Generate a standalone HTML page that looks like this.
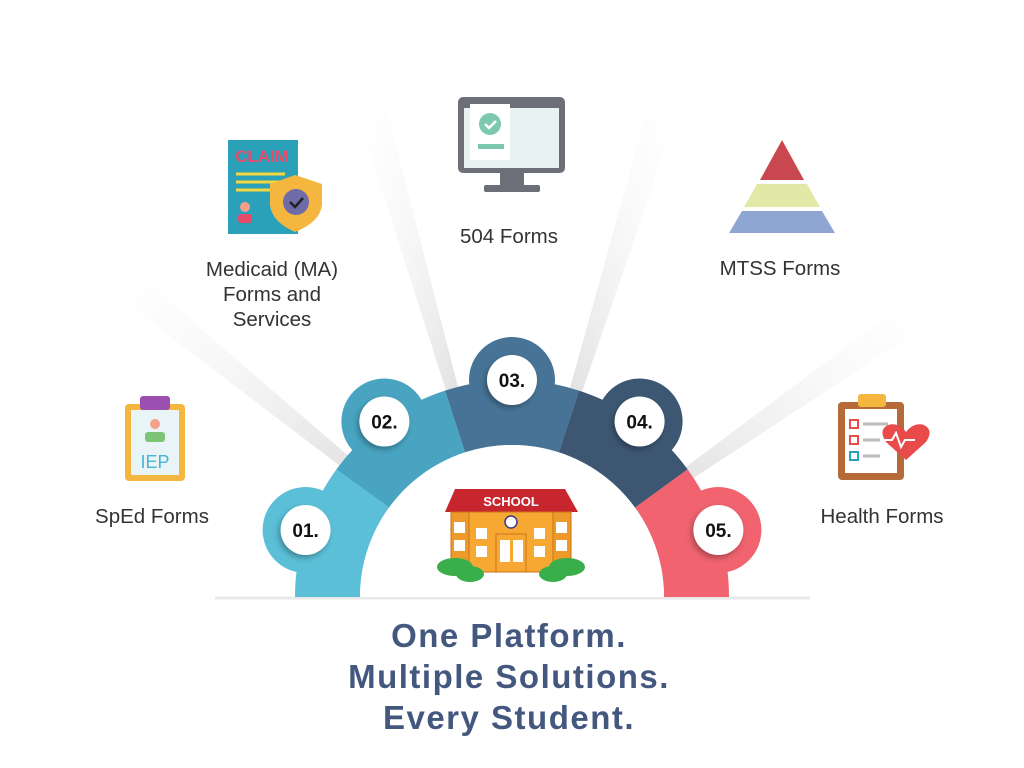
<!DOCTYPE html>
<html><head><meta charset="utf-8"><style>
html,body{margin:0;padding:0;background:#fff;}
body{width:1024px;height:768px;overflow:hidden;position:relative;font-family:"Liberation Sans",sans-serif;}
svg{position:absolute;left:0;top:0;}
</style></head><body>
<svg width="1024" height="768" viewBox="0 0 1024 768" xmlns="http://www.w3.org/2000/svg">
<defs>
<linearGradient id="rl" x1="1" y1="1" x2="0" y2="0"><stop offset="0.3" stop-color="#dcdcdc"/><stop offset="1" stop-color="#fff" stop-opacity="0"/></linearGradient>
<linearGradient id="rr" x1="0" y1="1" x2="1" y2="0"><stop offset="0.3" stop-color="#dcdcdc"/><stop offset="1" stop-color="#fff" stop-opacity="0"/></linearGradient>
<filter id="sh" x="-50%" y="-50%" width="200%" height="200%"><feDropShadow dx="-2" dy="3" stdDeviation="3" flood-opacity="0.3"/></filter>
</defs>
<polygon points="512,597 80,268 105,246" fill="url(#rl)"/>
<polygon points="512,597 348,84 378,76" fill="url(#rl)"/>
<polygon points="512,597 656,78 686,88" fill="url(#rr)"/>
<polygon points="512,597 936,280 956,306" fill="url(#rr)"/>
<line x1="215" y1="598" x2="810" y2="598" stroke="#e8e8e8" stroke-width="3"/>
<path d="M295,597 A217,217 0 0 1 336.4,469.4 L389,507.6 A152,152 0 0 0 360,597Z" fill="#5bbfd7"/>
<circle cx="305.6" cy="530" r="43" fill="#5bbfd7"/>
<path d="M336.4,469.4 A217,217 0 0 1 445,390.6 L465,452.4 A152,152 0 0 0 389,507.6Z" fill="#48a4c1"/>
<circle cx="384.4" cy="421.5" r="43" fill="#48a4c1"/>
<path d="M445,390.6 A217,217 0 0 1 579,390.6 L559,452.4 A152,152 0 0 0 465,452.4Z" fill="#477496"/>
<circle cx="512" cy="380" r="43" fill="#477496"/>
<path d="M579,390.6 A217,217 0 0 1 687.6,469.4 L635,507.6 A152,152 0 0 0 559,452.4Z" fill="#3d5773"/>
<circle cx="639.6" cy="421.5" r="43" fill="#3d5773"/>
<path d="M687.6,469.4 A217,217 0 0 1 729,597 L664,597 A152,152 0 0 0 635,507.6Z" fill="#f0636f"/>
<circle cx="718.4" cy="530" r="43" fill="#f0636f"/>
<path d="M360,597 A152,152 0 0 1 664,597Z" fill="#fff"/>
<g filter="url(#sh)" fill="#fff">
<circle cx="305.6" cy="530" r="25"/><circle cx="384.4" cy="421.5" r="25"/><circle cx="512" cy="380" r="25"/><circle cx="639.6" cy="421.5" r="25"/><circle cx="718.4" cy="530" r="25"/>
</g>
<g font-family="Liberation Sans,sans-serif" font-weight="bold" font-size="19" fill="#111" text-anchor="middle">
<text x="305.6" y="537">01.</text><text x="384.4" y="428.5">02.</text><text x="512" y="387">03.</text><text x="639.6" y="428.5">04.</text><text x="718.4" y="537">05.</text>
</g>
<g>
<polygon points="445,512 455,489 565,489 578,512" fill="#c8262e"/>
<text x="511" y="506" font-family="Liberation Sans,sans-serif" font-weight="bold" font-size="13" fill="#fff" text-anchor="middle">SCHOOL</text>
<rect x="451" y="512" width="120" height="60" fill="#f6a833" stroke="#c9731a"/>
<rect x="451" y="512" width="18" height="60" fill="#ee9a2a" stroke="#c9731a"/>
<rect x="553" y="512" width="18" height="60" fill="#ee9a2a" stroke="#c9731a"/>
<circle cx="511" cy="522" r="6" fill="#fff" stroke="#3a3a8a" stroke-width="1.5"/>
<rect x="496" y="534" width="30" height="38" fill="#f6a833" stroke="#c9731a"/>
<rect x="500" y="540" width="10" height="22" fill="#fff"/><rect x="513" y="540" width="10" height="22" fill="#fff"/>
<g fill="#fff"><rect x="454" y="522" width="11" height="11"/><rect x="454" y="540" width="11" height="11"/><rect x="476" y="528" width="11" height="11"/><rect x="476" y="546" width="11" height="11"/><rect x="534" y="528" width="11" height="11"/><rect x="534" y="546" width="11" height="11"/><rect x="556" y="522" width="11" height="11"/><rect x="556" y="540" width="11" height="11"/></g>
<g fill="#3aae4a"><ellipse cx="455" cy="567" rx="18" ry="9"/><ellipse cx="470" cy="574" rx="14" ry="8"/><ellipse cx="567" cy="567" rx="18" ry="9"/><ellipse cx="553" cy="574" rx="14" ry="8"/></g>
</g>
<rect x="125" y="404" width="60" height="77" rx="4" fill="#f4b63f"/>
<rect x="131" y="410" width="48" height="65" fill="#e8f4f6"/>
<rect x="140" y="396" width="30" height="14" rx="3" fill="#9b4fb0"/>
<circle cx="155" cy="424" r="5" fill="#f4a08a"/>
<rect x="145" y="432" width="20" height="10" rx="3" fill="#7cc576"/>
<text x="155" y="468" font-family="Liberation Sans,sans-serif" font-size="18" fill="#4ab3d8" text-anchor="middle">IEP</text>
<rect x="228" y="140" width="70" height="94" fill="#2aa1b8"/>
<text x="262" y="162" font-family="Liberation Sans,sans-serif" font-weight="bold" font-size="17" fill="#e94a6a" text-anchor="middle">CLAIM</text>
<g stroke="#f4d73f" stroke-width="3"><line x1="236" y1="174" x2="285" y2="174"/><line x1="236" y1="182" x2="280" y2="182"/><line x1="236" y1="190" x2="270" y2="190"/></g>
<circle cx="245" cy="207" r="5" fill="#f4a08a"/><rect x="238" y="214" width="14" height="9" rx="3" fill="#e94a6a"/>
<path d="M295,175 L322,184 L322,205 Q320,222 295,232 Q272,222 270,205 L270,184Z" fill="#f4b63f"/>
<circle cx="296" cy="202" r="13" fill="#6f6aa8"/>
<path d="M290,202 l5,5 l8,-9" stroke="#222" stroke-width="2.5" fill="none"/>
<rect x="458" y="97" width="107" height="76" rx="5" fill="#6c6e78"/>
<rect x="464" y="108" width="95" height="60" fill="#e6f3f1"/>
<rect x="470" y="104" width="40" height="56" fill="#fff"/>
<circle cx="490" cy="124" r="11" fill="#7cc9b0"/>
<path d="M485,124 l4,4 l7,-7" stroke="#fff" stroke-width="2.5" fill="none"/>
<rect x="478" y="144" width="26" height="5" fill="#7cc9b0"/>
<rect x="500" y="173" width="24" height="12" fill="#6c6e78"/>
<rect x="484" y="185" width="56" height="7" rx="2" fill="#6c6e78"/>
<polygon points="782,140 804,180 760,180" fill="#c9484f"/>
<polygon points="757,184 807,184 820,207 744,207" fill="#e2e9a7"/>
<polygon points="742,211 822,211 835,233 729,233" fill="#8fa6d3"/>
<rect x="838" y="402" width="66" height="78" rx="4" fill="#b56a3a"/>
<rect x="845" y="409" width="52" height="64" fill="#fff"/>
<rect x="858" y="394" width="28" height="13" rx="3" fill="#f4b63f"/>
<g stroke-width="2" fill="none"><rect x="850" y="420" width="8" height="8" stroke="#e94a4a"/><rect x="850" y="436" width="8" height="8" stroke="#e94a4a"/><rect x="850" y="452" width="8" height="8" stroke="#2aa1b8"/></g>
<g stroke="#bbb" stroke-width="3"><line x1="863" y1="424" x2="888" y2="424"/><line x1="863" y1="440" x2="880" y2="440"/><line x1="863" y1="456" x2="880" y2="456"/></g>
<path d="M906,460 L886,442 Q878,430 888,425 Q898,422 906,432 Q914,422 924,425 Q934,430 926,442Z" fill="#e94a4a"/>
<path d="M884,440 l8,0 l4,-7 l5,14 l4,-7 l10,0" stroke="#fff" stroke-width="2" fill="none"/>
<g font-family="Liberation Sans,sans-serif" font-size="20.5" fill="#333" text-anchor="middle">
<text x="152" y="523">SpEd Forms</text>
<text x="272" y="276">Medicaid (MA)</text>
<text x="272" y="301">Forms and</text>
<text x="272" y="326">Services</text>
<text x="509" y="243">504 Forms</text>
<text x="780" y="275">MTSS Forms</text>
<text x="882" y="523">Health Forms</text>
</g>
<g font-family="Liberation Sans,sans-serif" font-weight="bold" font-size="33" fill="#44587f" text-anchor="middle" letter-spacing="1.5">
<text x="509" y="647">One Platform.</text>
<text x="509" y="688">Multiple Solutions.</text>
<text x="509" y="729">Every Student.</text>
</g>
</svg>
</body></html>
